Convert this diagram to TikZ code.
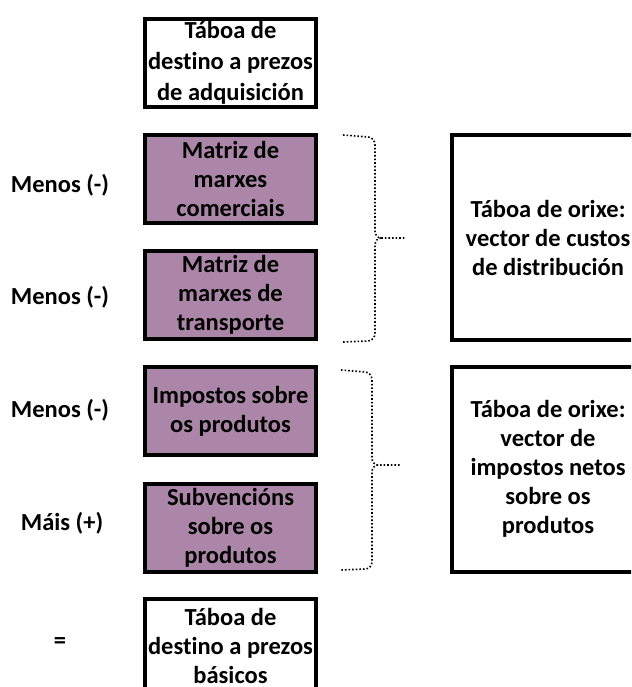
\documentclass[tikz,border=0pt]{standalone}
\usepackage{fontspec}
\setmainfont{Carlito}[Ligatures=NoCommon]
\usepackage{tikz}
\definecolor{marxe}{RGB}{172,134,168}
\tikzset{
	taboa/.style={draw, line width=4pt, minimum width=171pt, minimum height=88pt, align=center, inner sep=0pt},
	matriz/.style={taboa, fill=marxe},
	orixe/.style={draw, line width=4pt, minimum width=192pt, minimum height=205pt, align=center, inner sep=0pt},
	chave/.style={line width=1.6pt, dotted},
	signo/.style={align=center, inner sep=0pt}
}

\begin{document}
\begin{tikzpicture}[x=1pt, y=-1pt, font=\fontsize{24.5}{29}\selectfont\bfseries]
	\clip (0,0) rectangle (631,687);
	% columna central
	\node[taboa] (adq) at (230.5,63) {T\'aboa de\\[2pt] destino a prezos\\[2pt] de adquisici\'on};
	\node[matriz] (com) at (230.5,179) {Matriz de\\ marxes\\ comerciais};
	\node[matriz] (tra) at (230.5,295) {Matriz de\\ marxes de\\ transporte};
	\node[matriz] (imp) at (230.5,411) {Impostos sobre\\ os produtos};
	\node[matriz] (sub) at (230.5,528) {Subvenci\'ons\\ sobre os\\ produtos};
	\node[taboa, minimum height=100pt] (bas) at (230.5,649)
		{\raisebox{9pt}{\begin{tabular}{@{}c@{}}T\'aboa de\\ destino a prezos\\ b\'asicos\end{tabular}}};
	% signos
	\node[signo] (s1) at (60,185) {Menos (-)};
	\node[signo] (s2) at (60,297) {Menos (-)};
	\node[signo] (s3) at (60,410) {Menos (-)};
	\node[signo] (s4) at (62,523) {M\'ais (+)};
	\node[signo] (s5) at (60,643) {=};
	% taboas de orixe
	\node[orixe] (cus) at (548,237.5) {T\'aboa de orixe:\\ vector de custos\\ de distribuci\'on};
	\node[orixe] (net) at (548,469) {T\'aboa de orixe:\\ vector de\\ impostos netos\\ sobre os\\ produtos};
	% chaves
	\draw[chave] (343,135) -- (368,137) to[out=0,in=90] (375,145) -- (375,231) to[out=-90,in=180] (381,238) -- (405,238);
	\draw[chave] (381,238) to[out=180,in=90] (375,245) -- (375,333) to[out=-90,in=0] (368,341) -- (343,342);
	\draw[chave] (341,370) -- (365,372) to[out=0,in=90] (372,380) -- (372,458) to[out=-90,in=180] (378,465) -- (400,465);
	\draw[chave] (378,465) to[out=180,in=90] (372,472) -- (372,562) to[out=-90,in=0] (365,569) -- (341,570);
\end{tikzpicture}
\end{document}
